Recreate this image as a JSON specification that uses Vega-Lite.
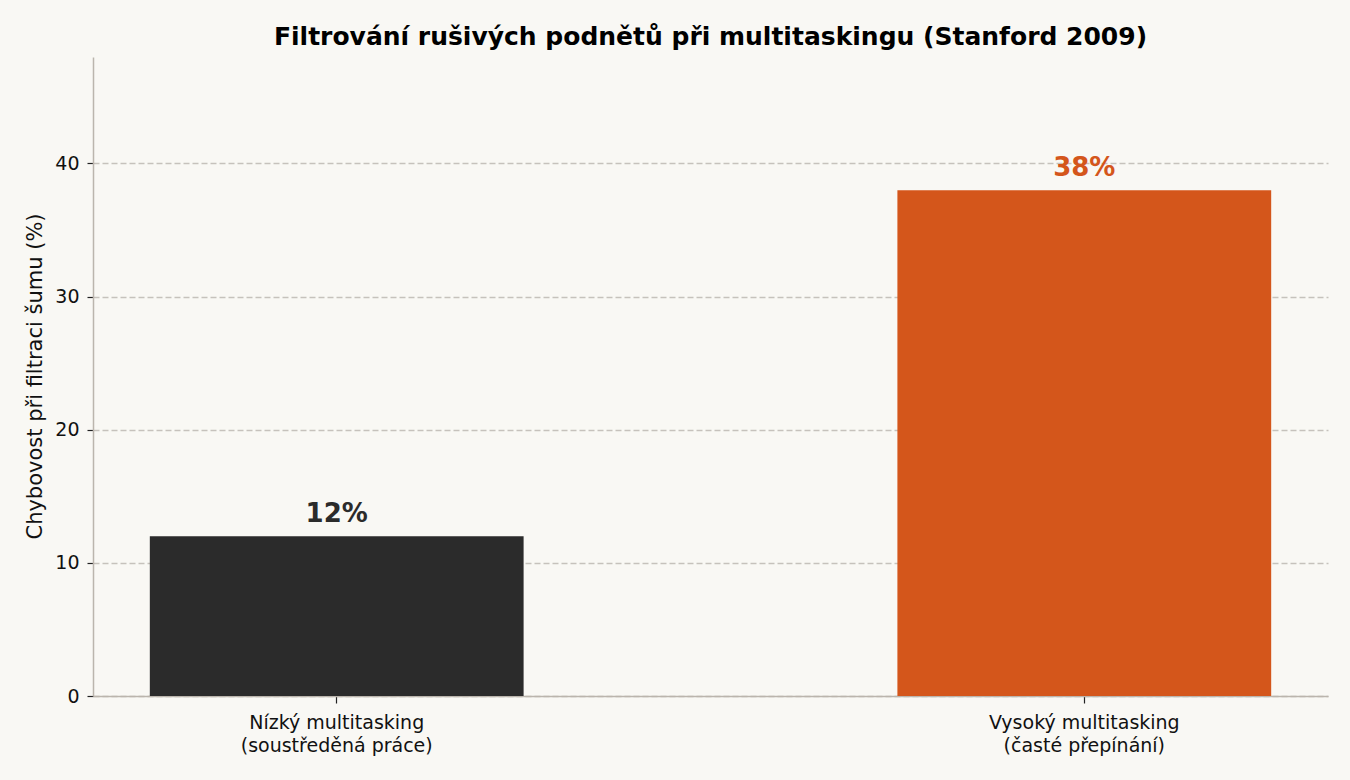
{
  "$schema": "https://vega.github.io/schema/vega-lite/v6.json",
  "autosize": "none",
  "width": 1235,
  "height": 639,
  "padding": {"left": 93, "top": 57, "right": 22, "bottom": 84},
  "background": "#f9f8f4",
  "config": {
    "font": "DejaVu Sans",
    "view": {"stroke": null},
    "axis": {"labelFont": "DejaVu Sans", "titleFont": "DejaVu Sans"}
  },
  "title": {
    "text": "Filtrování rušivých podnětů při multitaskingu (Stanford 2009)",
    "font": "DejaVu Sans",
    "fontSize": 25,
    "fontWeight": "bold",
    "color": "#000000",
    "anchor": "middle",
    "baseline": "alphabetic",
    "offset": 12,
    "dy": 25
  },
  "data": {
    "values": [
      {"skupina": "Nízký multitasking\n(soustředěná práce)", "chybovost": 12, "popisek": "12%"},
      {"skupina": "Vysoký multitasking\n(časté přepínání)", "chybovost": 38, "popisek": "38%"}
    ]
  },
  "encoding": {
    "x": {
      "field": "skupina",
      "type": "nominal",
      "sort": null,
      "scale": {"paddingInner": 0.5, "paddingOuter": 0.076},
      "axis": {
        "title": null,
        "labelAngle": 0,
        "labelExpr": "split(datum.label, '\\n')",
        "labelLimit": 500,
        "labelFontSize": 19,
        "labelLineHeight": 23,
        "labelColor": "#111111",
        "labelPadding": 10,
        "labelBaseline": "top",
        "domainColor": "#bbb5ad",
        "domainWidth": 1.5,
        "tickColor": "#222222",
        "tickSize": 7,
        "tickWidth": 1.2,
        "grid": false
      }
    },
    "y": {
      "field": "chybovost",
      "type": "quantitative",
      "scale": {"domain": [0, 48], "nice": false},
      "axis": {
        "title": "Chybovost při filtraci šumu (%)",
        "titleFontSize": 21,
        "titleFontWeight": "normal",
        "titleColor": "#111111",
        "titleX": -58,
        "titleY": 319,
        "titleAngle": -90,
        "titleAnchor": null,
        "titleAlign": "center",
        "titleBaseline": "middle",
        "values": [0, 10, 20, 30, 40],
        "labelFontSize": 19,
        "labelColor": "#111111",
        "labelPadding": 8,
        "domainColor": "#bbb5ad",
        "domainWidth": 1.5,
        "tickColor": "#222222",
        "tickSize": 6,
        "tickWidth": 1.2,
        "grid": true,
        "gridColor": "#c6c2bc",
        "gridDash": [6, 3],
        "gridWidth": 1.4
      }
    }
  },
  "layer": [
    {
      "mark": {"type": "bar"},
      "encoding": {
        "color": {
          "field": "chybovost",
          "type": "ordinal",
          "scale": {"domain": [12, 38], "range": ["#2b2b2b", "#d4561b"]},
          "legend": null
        }
      }
    },
    {
      "mark": {
        "type": "text",
        "fontSize": 26,
        "fontWeight": "bold",
        "baseline": "alphabetic",
        "dy": -14
      },
      "encoding": {
        "text": {"field": "popisek", "type": "nominal"},
        "color": {
          "field": "chybovost",
          "type": "ordinal",
          "scale": {"domain": [12, 38], "range": ["#2b2b2b", "#d4561b"]},
          "legend": null
        }
      }
    }
  ]
}
